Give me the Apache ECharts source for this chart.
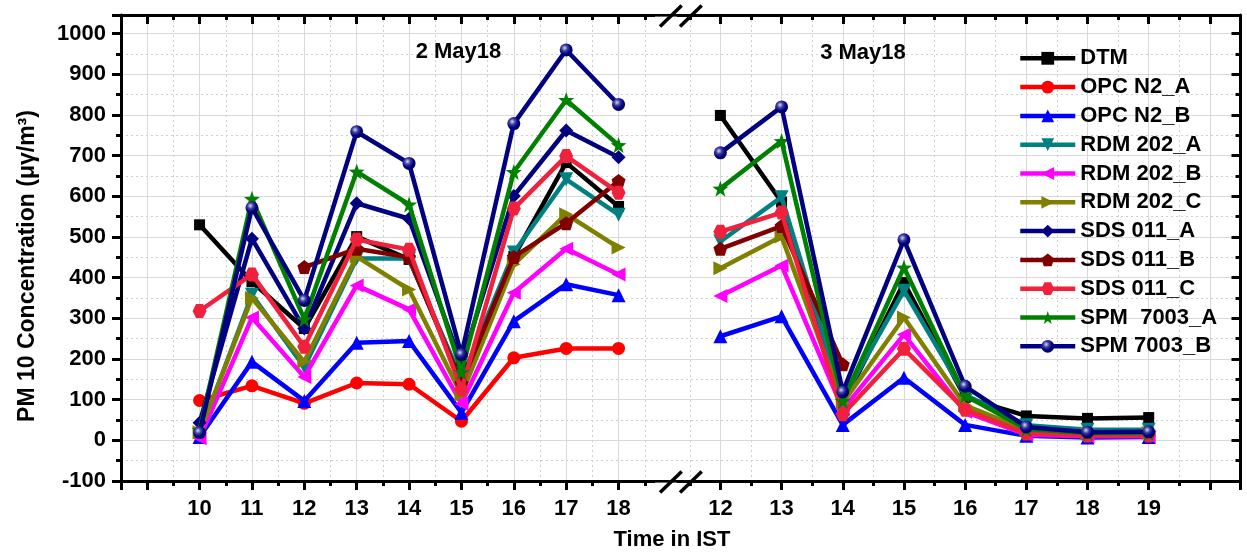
<!DOCTYPE html>
<html>
<head>
<meta charset="utf-8">
<script src="https://cdn.jsdelivr.net/npm/echarts@6/dist/echarts.min.js"></script>
<style>
  html, body { margin: 0; padding: 0; background: #ffffff; }
  #chart { width: 1247px; height: 554px; }
</style>
</head>
<body>
<div id="chart"></div>
<script>
// ---------------- DATA ----------------
const hoursDay1 = [10, 11, 12, 13, 14, 15, 16, 17, 18];
const hoursDay2 = [12, 13, 14, 15, 16, 17, 18, 19];
const dayTitles = ['2 May18', '3 May18'];
const seriesNames = ['DTM', 'OPC N2_A', 'OPC N2_B', 'RDM 202_A', 'RDM 202_B', 'RDM 202_C',
  'SDS 011_A', 'SDS 011_B', 'SDS 011_C', 'SPM  7003_A', 'SPM 7003_B'];

const dtmDay1 = [530, 390, 275, 501, 445, 148, 452, 683, 575];
const dtmDay2 = [799, 586, 88, 388, 105, 60, 54, 56];
const opcADay1 = [98, 134, 91, 141, 138, 47, 203, 226, 226];
const opcADay2 = [null, null, null, null, null, null, null, null];
const opcBDay1 = [8, 193, 97, 240, 244, 68, 293, 384, 357];
const opcBDay2 = [256, 305, 38, 154, 38, 11, 7, 8];
const rdmADay1 = [15, 358, 180, 447, 447, 150, 462, 642, 555];
const rdmADay2 = [489, 598, 101, 368, 112, 37, 26, 26];
const rdmBDay1 = [5, 302, 156, 381, 322, 90, 363, 471, 408];
const rdmBDay2 = [355, 430, 76, 260, 70, 14, 10, 10];
const rdmCDay1 = [20, 350, 193, 452, 371, 112, 433, 556, 474];
const rdmCDay2 = [423, 501, 92, 302, 86, 25, 17, 18];
const sdsADay1 = [43, 496, 275, 583, 545, 188, 601, 762, 696];
const sdsADay2 = [null, null, null, null, null, null, null, null];
const sdsBDay1 = [null, null, 426, 471, 450, 140, 451, 534, 638];
const sdsBDay2 = [471, 527, 187, null, null, null, null, null];
const sdsCDay1 = [318, 408, 230, 494, 469, 125, 570, 699, 609];
const sdsCDay2 = [513, 560, 64, 225, 75, 17, 12, 12];
const spmADay1 = [25, 594, 298, 661, 580, 168, 660, 837, 726];
const spmADay2 = [619, 736, 97, 425, 110, 28, 18, 18];
const spmBDay1 = [19, 572, 344, 759, 681, 211, 779, 960, 826];
const spmBDay2 = [707, 820, 119, 493, 133, 33, 20, 21];

const yTitle = 'PM 10 Concentration (\u03bc\u03b3/m\u00b3)';
const xTitle = 'Time in IST';

// ---------------- STYLES ----------------
const FONT = '"Liberation Sans", Arial, Helvetica, sans-serif';
const SYM_PENTAGON = 'path://M0,-10L9.51,-3.09L5.88,8.09L-5.88,8.09L-9.51,-3.09Z';
const SYM_HEXAGON = 'path://M-10,0L-5,-8.66L5,-8.66L10,0L5,8.66L-5,8.66Z';
const SYM_STAR = 'path://M0,-10L2.35,-3.24L9.51,-3.09L3.8,1.24L5.88,8.09L0,4L-5.88,8.09L-3.8,1.24L-9.51,-3.09L-2.35,-3.24Z';
const SYM_TRI_DOWN = 'path://M-10,-8L10,-8L0,9Z';
const SYM_TRI_LEFT = 'path://M-9,0L8,-10L8,10Z';
const SYM_TRI_RIGHT = 'path://M9,0L-8,-10L-8,10Z';

const navyBall = {
  type: 'radial', x: 0.38, y: 0.35, r: 0.65,
  colorStops: [{ offset: 0, color: '#d8d8f0' }, { offset: 0.35, color: '#4040a0' }, { offset: 0.7, color: '#000080' }, { offset: 1, color: '#000060' }]
};

const styleList = [
  { color: '#000000', symbol: 'rect', size: 11 },
  { color: '#ff0000', symbol: 'circle', size: 13 },
  { color: '#0000ff', symbol: 'triangle', size: 14 },
  { color: '#008080', symbol: SYM_TRI_DOWN, size: 14 },
  { color: '#ff00ff', symbol: SYM_TRI_LEFT, size: 14 },
  { color: '#808000', symbol: SYM_TRI_RIGHT, size: 14 },
  { color: '#000080', symbol: 'diamond', size: 14 },
  { color: '#800000', symbol: SYM_PENTAGON, size: 14 },
  { color: '#f0213c', symbol: SYM_HEXAGON, size: 14 },
  { color: '#008000', symbol: SYM_STAR, size: 16 },
  { color: '#000080', symbol: 'circle', size: 13, fill: navyBall }
];

const day1Values = [dtmDay1, opcADay1, opcBDay1, rdmADay1, rdmBDay1, rdmCDay1, sdsADay1, sdsBDay1, sdsCDay1, spmADay1, spmBDay1];
const day2Values = [dtmDay2, opcADay2, opcBDay2, rdmADay2, rdmBDay2, rdmCDay2, sdsADay2, sdsBDay2, sdsCDay2, spmADay2, spmBDay2];

// ---------------- LAYOUT ----------------
const PLOT_TOP = 15, PLOT_H = 466;
const PLOT_LEFT = 121, PLOT_RIGHT = 1240.5;
const D1_MIN = 8.5, D1_MAX = 18.99, D1_STEP = 52.375;
const D2_MIN = 11.01, D2_MAX = 20.5, D2_STEP = 61.19;
const d1Width = (D1_MAX - D1_MIN) * D1_STEP;
const d2Left = PLOT_RIGHT - (D2_MAX - D2_MIN) * D2_STEP;
const Y_MIN = -100, Y_MAX = 1046;
const LINE_W = 4.5;

const black = '#000000';
const gridSolid = { color: '#d9d9d9', width: 1 };
const gridDot = { color: '#cfcfcf', width: 1, type: [2, 3] };

function makeSeries(values, hours, xi, yi, k) {
  const st = styleList[k];
  const pts = [];
  hours.forEach((h, i) => { if (values[i] != null) pts.push([h, values[i]]); });
  return {
    type: 'line', name: seriesNames[k], xAxisIndex: xi, yAxisIndex: yi,
    data: pts, symbol: st.symbol, symbolSize: st.size, showAllSymbol: true,
    lineStyle: { color: st.color, width: LINE_W, join: 'round' },
    itemStyle: { color: st.fill || st.color, borderWidth: 0 },
    emphasis: { disabled: true }, z: 3 + k
  };
}

const series = [];
for (let k = 0; k < seriesNames.length; k++) {
  if (day1Values[k].some(v => v != null)) series.push(makeSeries(day1Values[k], hoursDay1, 2, 2, k));
  if (day2Values[k].some(v => v != null)) series.push(makeSeries(day2Values[k], hoursDay2, 4, 3, k));
}

function segAxis(min, max, pos, showLabels, lo, hi) {
  return {
    type: 'value', position: pos, min: min, max: max,
    minInterval: 1, maxInterval: 1,
    axisLine: { show: false, onZero: false },
    axisTick: { show: true, inside: pos === 'top', length: 9, lineStyle: { color: black, width: 3 } },
    minorTick: { show: true, splitNumber: 2, length: 5, lineStyle: { color: black, width: 3 } },
    axisLabel: {
      show: showLabels, color: black, fontSize: 22, fontWeight: 'bold', fontFamily: FONT, margin: 17,
      formatter: v => (Math.abs(v - Math.round(v)) < 1e-6 && v >= lo && v <= hi) ? String(Math.round(v)) : ''
    },
    splitLine: { show: showLabels, showMinLine: false, showMaxLine: false, lineStyle: gridSolid },
    minorSplitLine: { show: showLabels, lineStyle: gridDot }
  };
}

const xAxes = [
  { type: 'value', gridIndex: 0, position: 'bottom', min: 0, max: 1, axisLine: { show: true, onZero: false, lineStyle: { color: black, width: 3 } }, axisTick: { show: false }, axisLabel: { show: false }, splitLine: { show: false } },
  { type: 'value', gridIndex: 0, position: 'top', min: 0, max: 1, axisLine: { show: true, onZero: false, lineStyle: { color: black, width: 3 } }, axisTick: { show: false }, axisLabel: { show: false }, splitLine: { show: false } },
  Object.assign(segAxis(D1_MIN, D1_MAX, 'bottom', true, hoursDay1[0], hoursDay1[hoursDay1.length - 1]), { gridIndex: 1 }),
  Object.assign(segAxis(D1_MIN, D1_MAX, 'top', false, 0, 0), { gridIndex: 1 }),
  Object.assign(segAxis(D2_MIN, D2_MAX, 'bottom', true, hoursDay2[0], hoursDay2[hoursDay2.length - 1]), { gridIndex: 2 }),
  Object.assign(segAxis(D2_MIN, D2_MAX, 'top', false, 0, 0), { gridIndex: 2 })
];

const yAxes = [
  {
    type: 'value', gridIndex: 0, position: 'left', min: Y_MIN, max: Y_MAX, minInterval: 100, maxInterval: 100,
    axisLine: { show: true, onZero: false, lineStyle: { color: black, width: 3 } },
    axisTick: { show: true, length: 9, lineStyle: { color: black, width: 3 } },
    minorTick: { show: true, splitNumber: 2, length: 5, lineStyle: { color: black, width: 3 } },
    axisLabel: { color: black, fontSize: 22, fontWeight: 'bold', fontFamily: FONT, margin: 15,
      formatter: v => (v % 100 === 0) ? String(v) : '' },
    splitLine: { show: true, lineStyle: gridSolid },
    minorSplitLine: { show: true, lineStyle: gridDot }
  },
  {
    type: 'value', gridIndex: 0, position: 'right', min: Y_MIN, max: Y_MAX, minInterval: 100, maxInterval: 100,
    axisLine: { show: true, onZero: false, lineStyle: { color: black, width: 3 } },
    axisTick: { show: true, inside: true, length: 9, lineStyle: { color: black, width: 3 } },
    minorTick: { show: true, splitNumber: 2, length: 5, lineStyle: { color: black, width: 3 } },
    axisLabel: { show: false }, splitLine: { show: false }
  },
  { type: 'value', gridIndex: 1, min: Y_MIN, max: Y_MAX, show: false },
  { type: 'value', gridIndex: 2, min: Y_MIN, max: Y_MAX, show: false }
];

const BOT = PLOT_TOP + PLOT_H;
const breakX = 660;
const slash = (x0, yBase) => ({ type: 'line', z: 100, shape: { x1: x0, y1: yBase + 11.5, x2: x0 + 21.7, y2: yBase - 9.5 }, style: { stroke: black, lineWidth: 3.5 } });
const titleStyle = { fill: black, fontSize: 22, fontWeight: 'bold', fontFamily: FONT, align: 'center', verticalAlign: 'middle' };

const option = {
  animation: false,
  backgroundColor: '#ffffff',
  grid: [
    { left: PLOT_LEFT, top: PLOT_TOP, width: PLOT_RIGHT - PLOT_LEFT, height: PLOT_H },
    { left: PLOT_LEFT, top: PLOT_TOP, width: d1Width, height: PLOT_H },
    { left: d2Left, top: PLOT_TOP, width: PLOT_RIGHT - d2Left, height: PLOT_H }
  ],
  xAxis: xAxes,
  yAxis: yAxes,
  legend: {
    orient: 'vertical', left: 1013, top: 42.3,
    itemWidth: 55, itemHeight: 16, itemGap: 6.8,
    data: seriesNames,
    selectedMode: false,
    lineStyle: { width: LINE_W },
    textStyle: { color: black, fontSize: 22, fontWeight: 'bold', fontFamily: FONT, lineHeight: 22 }
  },
  graphic: [
    { type: 'rect', z: 99, shape: { x: 655, y: BOT + 1.6, width: 22, height: 11 }, style: { fill: '#ffffff' } },
    { type: 'rect', z: 99, shape: { x: 655, y: PLOT_TOP + 1.6, width: 22, height: 11 }, style: { fill: '#ffffff' } },
    slash(breakX, BOT), slash(breakX + 20, BOT),
    slash(breakX, PLOT_TOP), slash(breakX + 20, PLOT_TOP),
    { type: 'text', z: 100, x: 458.5, y: 52, style: Object.assign({ text: dayTitles[0] }, titleStyle) },
    { type: 'text', z: 100, x: 863, y: 53, style: Object.assign({ text: dayTitles[1] }, titleStyle) },
    { type: 'text', z: 100, x: 672, y: 540, style: Object.assign({ text: xTitle }, titleStyle) },
    { type: 'text', z: 100, x: 28, y: 266, rotation: Math.PI / 2, style: Object.assign({ text: yTitle }, titleStyle, { fontSize: 23 }) }
  ],
  series: series
};

const chart = echarts.init(document.getElementById('chart'), null, { renderer: 'canvas' });
chart.setOption(option);
</script>
</body>
</html>
